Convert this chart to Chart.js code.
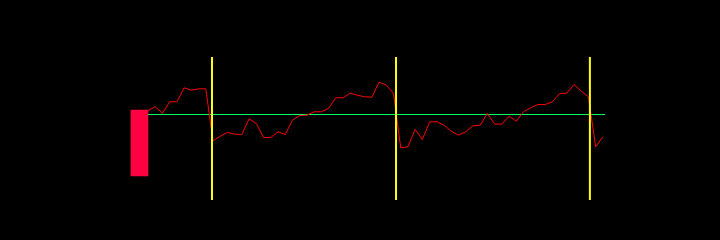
<!DOCTYPE html>
<html lang="en">
<head>
    <meta charset="UTF-8">
    <title>Series vs baseline</title>
    <script src="https://cdn.jsdelivr.net/npm/chart.js"></script>
    <style>
        html, body {
            margin: 0;
            padding: 0;
            background-color: #000000;
        }

        .chart-container {
            width: 720px;
            height: 240px;
        }
    </style>
</head>
<body>

    <div class="chart-container">
        <canvas id="seriesChart" width="720" height="240"></canvas>
    </div>

    <script>
        // red series, one value per step (baseline = 0)
        const seriesValues = [
            4, 7.7, 1.3, 12.7, 12.7, 26.7, 24.3, 25.7, 25.7, -26.3,
            -21.7, -18, -19.7, -20, -4.3, -9, -23, -23, -17.3, -20,
            -5.7, -1, -0.7, 2.7, 2.7, 6, 16.7, 16.7, 21.3, 19.3,
            17.7, 17.3, 32.3, 29.5, 21, -33.3, -32.3, -14.7, -25, -7.3,
            -7.3, -10.7, -16.7, -20.7, -17.3, -11.3, -10.7, 1, -9.5, -9.7,
            -1.7, -6.7, 2.7, 6.7, 10, 10, 12.7, 21, 21.3, 30,
            23.3, 17.7, -32.3, -22.3
        ];
        const baselineValue = 0;
        const baselineEnd = 63.3;

        // vertical markers
        const markerSteps = [8.86, 34.35, 61.2];
        const markerTop = 57.5;
        const markerBottom = -85.5;

        // opening block (floating bar)
        const blockStep = -1.18;
        const blockRange = [4.5, -61.5];

        const seriesPoints = seriesValues.map((v, i) => ({ x: i, y: v }));

        const datasets = [];

        markerSteps.forEach(s => {
            datasets.push({
                type: 'line',
                data: [{ x: s, y: markerTop }, { x: s, y: markerBottom }],
                borderColor: '#ffff10',
                borderWidth: 2,
                pointRadius: 0,
                order: 0
            });
        });

        datasets.push({
            type: 'line',
            data: seriesPoints,
            borderColor: '#ff0000',
            borderWidth: 1,
            pointRadius: 0,
            tension: 0,
            order: 1
        });

        datasets.push({
            type: 'line',
            data: [{ x: 0, y: baselineValue }, { x: baselineEnd, y: baselineValue }],
            borderColor: '#00ff66',
            borderWidth: 1,
            pointRadius: 0,
            order: 2
        });

        datasets.push({
            type: 'bar',
            data: [{ x: blockStep, y: blockRange }],
            backgroundColor: '#ff0040',
            borderWidth: 0,
            barThickness: 17,
            order: 3
        });

        const ctx = document.getElementById('seriesChart').getContext('2d');
        new Chart(ctx, {
            data: { datasets: datasets },
            options: {
                responsive: false,
                devicePixelRatio: 1,
                animation: false,
                layout: { padding: 0 },
                scales: {
                    x: {
                        type: 'linear',
                        display: false,
                        offset: false,
                        min: -20.5,
                        max: 79.22
                    },
                    y: {
                        type: 'linear',
                        display: false,
                        min: -125.5,
                        max: 114.5
                    }
                },
                plugins: {
                    legend: { display: false },
                    tooltip: { enabled: false }
                }
            }
        });
    </script>
</body>
</html>
